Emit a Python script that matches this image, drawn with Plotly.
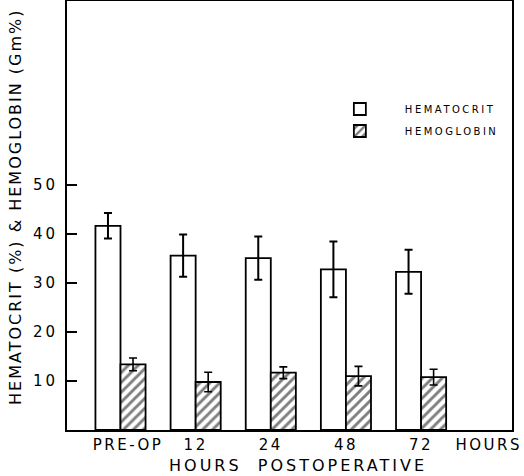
import plotly.graph_objects as go

categories = ["PRE-OP", "12", "24", "48", "72", "HOURS"]
hct_values = [41.7, 35.6, 35.1, 32.8, 32.3]
hct_err = [2.6, 4.3, 4.4, 5.7, 4.5]
hgb_values = [13.4, 9.8, 11.7, 11.0, 10.8]
hgb_err = [1.3, 2.0, 1.2, 2.0, 1.6]
y_ticks = [10, 20, 30, 40, 50]

FONT = "DejaVu Sans"
x_idx = list(range(len(hct_values)))
tick_pos = [0.1, 1, 2, 3, 4, 4.9]


def spaced(t, px):
    return f'<span style="letter-spacing:{px}px">{t}</span>'


fig = go.Figure()
fig.add_trace(go.Bar(
    name=spaced("HEMATOCRIT", 2.5), x=x_idx, y=hct_values, legendgroup="a",
    marker=dict(color="white", line=dict(color="black", width=1.8)),
    error_y=dict(type="data", array=hct_err, color="black", thickness=2, width=4),
))
fig.add_trace(go.Bar(
    name=spaced("HEMOGLOBIN", 2.5), x=x_idx, y=hgb_values, legendgroup="b",
    marker=dict(color="white", line=dict(color="black", width=1.8),
                pattern=dict(shape="/", size=7, solidity=0.42, fgcolor="black", bgcolor="white")),
    error_y=dict(type="data", array=hgb_err, color="black", thickness=1.6, width=4),
))

fig.update_layout(
    width=524, height=476,
    margin=dict(l=67, r=12, t=1, b=46),
    paper_bgcolor="white", plot_bgcolor="white",
    barmode="group", bargap=0.333, bargroupgap=0,
    font=dict(family=FONT, color="black"),
    legend=dict(x=0.557, y=0.782, xanchor="left", yanchor="top",
                bgcolor="rgba(0,0,0,0)", font=dict(size=10, family=FONT),
                itemwidth=80, tracegroupgap=3),
    xaxis=dict(range=[-0.712, 5.21], tickvals=tick_pos,
               ticktext=[spaced(c, 2.5) for c in categories],
               showline=True, mirror=True, linecolor="black", automargin=False,
               linewidth=2, ticks="", tickfont=dict(size=15, family=FONT),
               showgrid=False, zeroline=False),
    yaxis=dict(range=[0, 87.6], tickvals=y_ticks,
               ticktext=[spaced(str(v), 3) for v in y_ticks], automargin=False,
               ticks="inside", ticklen=10, tickwidth=2, tickcolor="black",
               ticklabelstandoff=4,
               showline=True, mirror=True, linecolor="black", linewidth=2,
               tickfont=dict(size=15, family=FONT), showgrid=False, zeroline=False),
    annotations=[
        dict(text=spaced("HEMATOCRIT (%) &amp; HEMOGLOBIN (Gm%)", 2), textangle=-90,
             xref="paper", yref="paper", x=-0.117, y=0.522, xanchor="center", yanchor="middle",
             showarrow=False, font=dict(size=16, family=FONT)),
        dict(text=spaced("HOURS &nbsp;POSTOPERATIVE", 3), xref="paper", yref="paper",
             x=0.52, y=-0.083, xanchor="center", yanchor="middle",
             showarrow=False, font=dict(size=16, family=FONT)),
    ],
)

fig.write_html("out.html", config={"displayModeBar": False},
               post_script="document.body.style.margin='0';document.body.style.overflow='hidden';")
